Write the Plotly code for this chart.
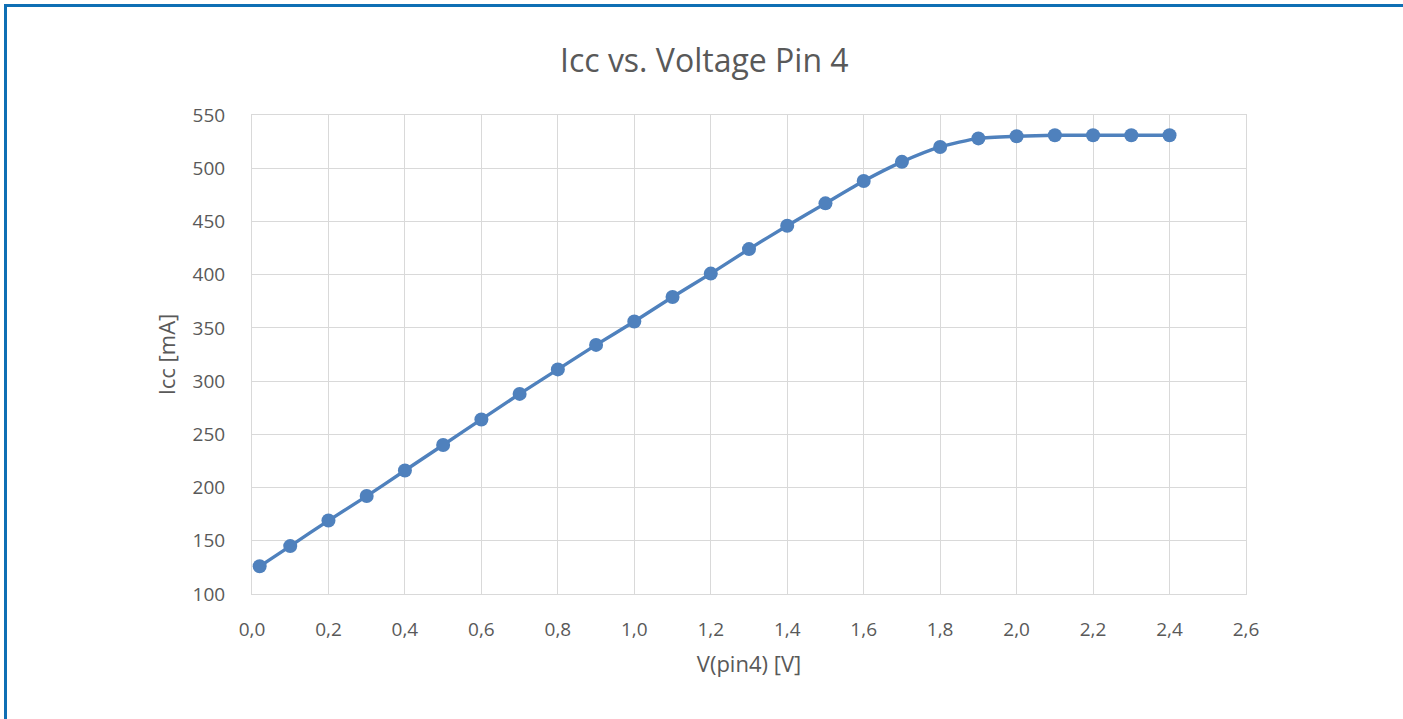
import plotly.graph_objects as go

# Data
v_pin4 = [0.02, 0.1, 0.2, 0.3, 0.4, 0.5, 0.6, 0.7, 0.8, 0.9, 1.0, 1.1, 1.2,
          1.3, 1.4, 1.5, 1.6, 1.7, 1.8, 1.9, 2.0, 2.1, 2.2, 2.3, 2.4]
icc_ma = [126, 145, 169, 192, 216, 240, 264, 288, 311, 334, 356, 379, 401,
          424, 446, 467, 488, 506, 520, 528, 530, 531, 531, 531, 531]
x_ticks = [0.0, 0.2, 0.4, 0.6, 0.8, 1.0, 1.2, 1.4, 1.6, 1.8, 2.0, 2.2, 2.4, 2.6]
y_ticks = [100, 150, 200, 250, 300, 350, 400, 450, 500, 550]

W, H = 1403, 719
L, R, T, B = 252, 157, 115, 125
pw, ph = W - L - R, H - T - B

font_family = "Open Sans, Lato, sans-serif"
txt = "#595959"
grid = "#D9D9D9"
series_col = "#4F81BD"
frame_col = "#0F6FB4"

fig = go.Figure()
fig.add_trace(go.Scatter(
    x=v_pin4, y=icc_ma, mode="lines+markers",
    line=dict(color=series_col, width=3.4, shape="spline", smoothing=0.6),
    marker=dict(color=series_col, size=14),
    showlegend=False,
))

fig.update_layout(
    width=W, height=H,
    margin=dict(l=L, r=R, t=T, b=B, pad=0),
    paper_bgcolor="white", plot_bgcolor="white",
    separators=",.",
    font=dict(family=font_family, color=txt, size=19),
    title=dict(text="Icc vs. Voltage Pin 4", x=0.502, xanchor="center", xref="container",
               y=1 - 61 / H, yanchor="middle", yref="container",
               font=dict(size=32, color=txt, family=font_family)),
    xaxis=dict(
        range=[0, 2.6], tickvals=x_ticks, tickformat=".1f",
        showgrid=True, gridcolor=grid, gridwidth=1,
        showline=True, linecolor=grid, linewidth=1, mirror=True,
        zeroline=False, ticks="outside", ticklen=18, tickcolor="rgba(0,0,0,0)",
        tickfont=dict(size=19, color=txt),
        title=dict(text="V(pin4) [V]", font=dict(size=22, color=txt), standoff=15),
    ),
    yaxis=dict(
        range=[100, 550], tickvals=y_ticks,
        showgrid=True, gridcolor=grid, gridwidth=1,
        showline=True, linecolor=grid, linewidth=1, mirror=True,
        zeroline=False, ticks="outside", ticklen=22, tickcolor="rgba(0,0,0,0)",
        tickfont=dict(size=19, color=txt),
        title=dict(text="Icc [mA]", font=dict(size=22, color=txt), standoff=10),
    ),
    shapes=[
        dict(type="line", xref="paper", yref="paper",
             x0=(4 - L) / pw, x1=(W - L) / pw,
             y0=(H - B - 5.5) / ph, y1=(H - B - 5.5) / ph,
             line=dict(color=frame_col, width=3)),
        dict(type="line", xref="paper", yref="paper",
             x0=(5.5 - L) / pw, x1=(5.5 - L) / pw,
             y0=(H - B - 4) / ph, y1=(-B - 5) / ph,
             line=dict(color=frame_col, width=3)),
    ],
)

fig.write_html("out.html", config={"displayModeBar": False},
               post_script="document.body.style.margin='0';")
